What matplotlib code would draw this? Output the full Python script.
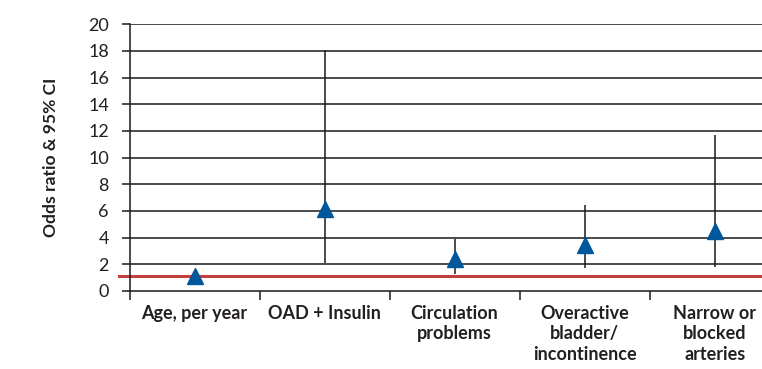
import numpy as np
import matplotlib
matplotlib.use("Agg")
import matplotlib.pyplot as plt

plt.rcParams['font.family'] = ['Lato', 'DejaVu Sans']

categories = ['Age, per year', 'OAD + Insulin', 'Circulation\nproblems',
              'Overactive\nbladder/\nincontinence', 'Narrow or\nblocked\narteries']
odds = [1.1, 6.15, 2.4, 3.45, 4.5]
ci_low = [1.1, 2.1, 1.3, 1.7, 1.8]
ci_high = [1.1, 18.1, 3.9, 6.45, 11.7]
ref_line = 1.15
yticks = list(range(0, 21, 2))

blue = '#00579b'
red = '#c4403c'
grid = '#1a1a1a'
text_c = '#231f20'

fig = plt.figure(figsize=(7.62, 3.69), dpi=100)
ax = fig.add_axes([0.170, 0.2114, 0.830, 0.7227])

x = np.arange(len(categories))
for t in yticks[1:]:
    ax.axhline(t, color=grid, lw=1.1, zorder=1)
ax.axhline(ref_line, xmin=-0.016, xmax=1, color=red, lw=2.2, zorder=2, clip_on=False)
ax.vlines(x, ci_low, ci_high, color=grid, lw=1.1, zorder=3)
ax.plot(x, odds, linestyle='none', marker='^', ms=11.5, color=blue, mec=blue, zorder=4)

ax.set_xlim(-0.5, 4.364)
ax.set_ylim(0, 20)
ax.set_yticks(yticks)
ax.set_yticklabels([str(t) for t in yticks], fontsize=13, color=text_c)
ax.tick_params(axis='y', length=5.8, width=1.1, color=grid, pad=9)

ax.set_xticks(np.arange(-0.5, 4.0, 1.0))
ax.set_xticklabels([])
ax.set_xticks(x, minor=True)
ax.set_xticklabels(categories, minor=True, fontsize=13, fontweight='bold',
                   linespacing=1.25, va='top', color=text_c)
ax.tick_params(axis='x', which='major', length=6.5, width=1.1, color=grid)
ax.tick_params(axis='x', which='minor', length=0, pad=10)

for s in ['top', 'right']:
    ax.spines[s].set_visible(False)
for s in ['left', 'bottom']:
    ax.spines[s].set_color(grid)
    ax.spines[s].set_linewidth(1.1)

ax.set_ylabel('Odds ratio & 95% CI', fontsize=12.6, fontweight='bold',
              labelpad=21, color=text_c)

fig.savefig('out.png', dpi=100)
